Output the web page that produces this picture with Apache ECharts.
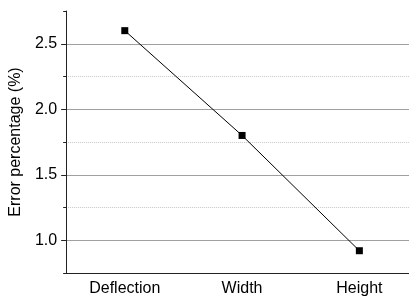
<!DOCTYPE html>
<html>
<head>
<meta charset="utf-8">
<script src="https://cdn.jsdelivr.net/npm/echarts@6/dist/echarts.min.js"></script>
<style>
  html, body { margin: 0; padding: 0; background: #fff; overflow: hidden; }
  /* 原图的图区超出右边界，所以画布比窗口宽一点 */
  #chart { width: 418px; height: 299px; }
</style>
</head>
<body>
<div id="chart"></div>
<script>
// 数据
var categories = ["Deflection", "Width", "Height"];
var errorValues = [2.6, 1.8, 0.92];
var yMin = 0.75;
var yMax = 2.75;

var font = "Liberation Sans, Arial, sans-serif";
var chart = echarts.init(document.getElementById("chart"));

var option = {
  animation: false,
  backgroundColor: "#fff",
  grid: { left: 64, right: 0, top: 11, bottom: 26 },
  xAxis: [
    {
      type: "category",
      data: categories,
      boundaryGap: true,
      axisLine: { lineStyle: { color: "#222", width: 1 } },
      axisTick: { alignWithLabel: true, length: 5, lineStyle: { color: "#222" } },
      axisLabel: { color: "#000", fontSize: 16, fontFamily: font, margin: 8 },
      splitLine: { show: false }
    },
    {
      // 副轴：类目间的小刻度
      type: "category",
      data: categories,
      boundaryGap: true,
      position: "bottom",
      axisLine: { show: false },
      axisTick: { length: 3, lineStyle: { color: "#222" } },
      axisLabel: { show: false },
      splitLine: { show: false }
    }
  ],
  yAxis: [
    {
      type: "value",
      min: yMin,
      max: yMax,
      splitNumber: 4,
      z: 3,
      name: "Error percentage (%)",
      nameLocation: "middle",
      nameRotate: 90,
      nameGap: 42,
      nameTextStyle: { color: "#000", fontSize: 16, fontFamily: font },
      axisLine: { show: true, lineStyle: { color: "#222", width: 1 } },
      axisTick: { show: true, length: 5, lineStyle: { color: "#222" } },
      axisLabel: {
        color: "#000", fontSize: 16, fontFamily: font, margin: 9,
        showMinLabel: false, showMaxLabel: false,
        formatter: function (v) { return v.toFixed(1); }
      },
      splitLine: { show: true, showMinLine: false, showMaxLine: false, lineStyle: { color: "#a0a0a0", width: 1 } }
    },
    {
      // 副轴：小刻度和虚线网格
      type: "value",
      min: yMin,
      max: yMax,
      interval: 0.25,
      position: "left",
      z: 1,
      axisLine: { show: false },
      axisTick: { show: true, length: 3, lineStyle: { color: "#222" } },
      axisLabel: { show: false },
      splitLine: { show: true, showMinLine: false, showMaxLine: false, lineStyle: { color: "#c8c8c8", width: 1, type: [1, 1] } }
    }
  ],
  series: [
    {
      type: "line",
      xAxisIndex: 0,
      yAxisIndex: 0,
      data: errorValues,
      symbol: "rect",
      symbolSize: 7,
      itemStyle: { color: "#000" },
      lineStyle: { color: "#000", width: 1 },
      z: 5
    }
  ]
};

chart.setOption(option);
</script>
</body>
</html>
